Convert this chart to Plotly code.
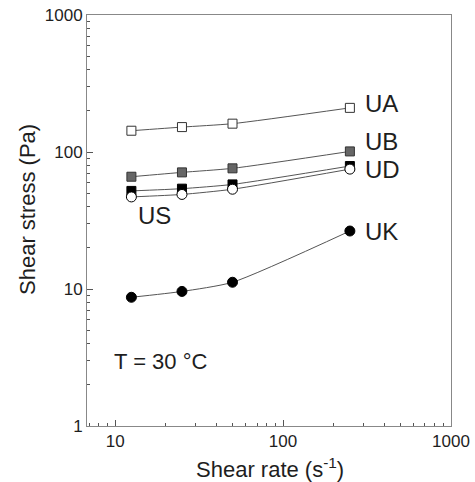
import plotly.graph_objects as go
import math

shear_rate = [12.5, 25, 50, 250]
ua = [143, 152, 161, 210]
ub = [66, 71, 76, 101]
ud = [52, 54, 58, 79]
us = [47, 49, 53.5, 75]
uk = [8.7, 9.6, 11.2, 26.5]

labels = ["UA", "UB", "UD", "US", "UK"]

FONT = "Liberation Sans, Arial, sans-serif"
TXT = "#1e1e1e"
LINE = dict(color="#555555", width=1, shape="spline", smoothing=0.6)

fig = go.Figure()
series = [
    (ua, dict(symbol="square", color="white", size=9, line=dict(color="#333", width=1))),
    (ub, dict(symbol="square", color="#666666", size=9, line=dict(color="#333", width=1))),
    (ud, dict(symbol="square", color="black", size=9, line=dict(color="black", width=1))),
    (us, dict(symbol="circle", color="white", size=10, line=dict(color="black", width=1))),
    (uk, dict(symbol="circle", color="black", size=10, line=dict(color="black", width=1))),
]
for vals, mk in series:
    fig.add_trace(go.Scatter(x=shear_rate, y=vals, mode="lines+markers",
                             line=LINE, marker=mk, showlegend=False, cliponaxis=False))

# series labels: (anchor point x, y, xshift, yshift, xanchor)
lab_pos = [
    (shear_rate[-1], ua[-1], 13, 4, "left"),
    (shear_rate[-1], ub[-1], 13, 10, "left"),
    (shear_rate[-1], ud[-1], 13, -3, "left"),
    (shear_rate[0], us[0], 23, -19, "center"),
    (shear_rate[-1], uk[-1], 13, 0, "left"),
]
for lab, (x, y, xs, ys, xa) in zip(labels, lab_pos):
    fig.add_annotation(x=math.log10(x), y=math.log10(y), text=lab, xshift=xs, yshift=ys,
                       showarrow=False, xanchor=xa, yanchor="middle",
                       font=dict(family=FONT, size=24, color=TXT))

fig.add_annotation(x=math.log10(9.56), y=0.474, text="T = 30 °C",
                   showarrow=False, xanchor="left", yanchor="middle",
                   font=dict(family=FONT, size=22, color=TXT))

# axis titles
fig.add_annotation(xref="paper", yref="paper", x=(270 - 87) / 364, y=(482 - 468 - 56) / 411,
                   text="Shear rate (s<sup>-1</sup>)", showarrow=False,
                   xanchor="center", yanchor="middle",
                   font=dict(family=FONT, size=22, color=TXT))
fig.add_annotation(xref="paper", yref="paper", x=(27 - 87) / 364, y=(426 - 210) / 411,
                   text="Shear stress (Pa)", showarrow=False, textangle=-90,
                   xanchor="center", yanchor="middle",
                   font=dict(family=FONT, size=22, color=TXT))

minor_x = [7, 8, 9, 20, 30, 40, 50, 60, 70, 80, 90, 200, 300, 400, 500, 600, 700, 800, 900]
minor_y = [v * 10 ** k for k in range(3) for v in range(2, 10)]

common = dict(type="log", ticks="inside", ticklen=6, tickcolor="#555",
              showline=True, linecolor="#888", linewidth=1, mirror=True,
              showgrid=False, zeroline=False, automargin=False,
              tickfont=dict(family=FONT, size=17, color=TXT))
fig.update_xaxes(range=[math.log10(6.8), 3], tickvals=[10, 100, 1000],
                 ticktext=["10", "100", "1000"],
                 minor=dict(tickvals=minor_x, ticks="inside", ticklen=3, tickcolor="#555", showgrid=False),
                 **common)
fig.update_yaxes(range=[0, 3], tickvals=[1, 10, 100, 1000],
                 ticktext=["1", "10", "100", "1000"],
                 minor=dict(tickvals=minor_y, ticks="inside", ticklen=3, tickcolor="#555", showgrid=False),
                 **common)

fig.update_layout(width=475, height=482, margin=dict(l=87, r=24, t=15, b=56),
                  plot_bgcolor="white", paper_bgcolor="white")

fig.write_html("out.html", config={"displayModeBar": False},
               post_script="document.body.style.margin='0';document.body.style.overflow='hidden';")
